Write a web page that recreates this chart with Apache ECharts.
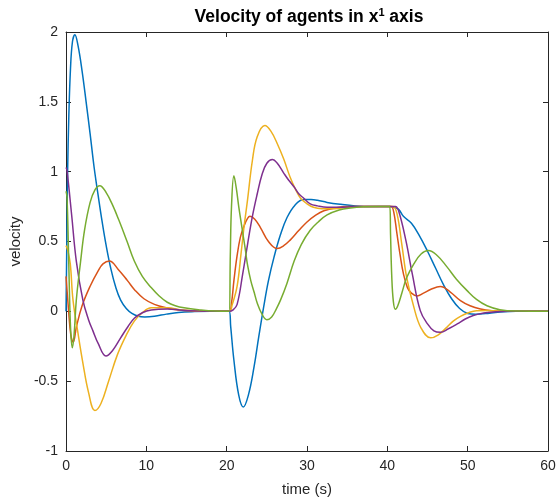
<!DOCTYPE html>
<html>
<head>
<meta charset="utf-8">
<script src="https://cdn.jsdelivr.net/npm/echarts@6/dist/echarts.min.js"></script>
<style>
html,body{margin:0;padding:0;background:#fff;}
#c{width:560px;height:504px;}
</style>
</head>
<body>
<div id="c"></div>
<script>
// ---- data (time in s, velocity) ----
var xTicks = [0, 10, 20, 30, 40, 50, 60];
var yTicks = [-1, -0.5, 0, 0.5, 1, 1.5, 2];

var tBlue = [0,0.1,0.2,0.35,0.55,0.8,1.1,1.5,2,2.5,3,3.5,4,4.5,5,5.6,6.2,6.8,7.5,8.2,9,9.8,11,12.5,14,16,18,20.3,
  20.5,20.9,21.5,22.07,22.7,23.4,24,24.6,25.2,25.9,26.7,27.5,28.5,29.6,30.5,31.3,32.5,34.2,36,38,40.3,
  40.8,41.4,42,43,44,45,46,47,48,49,50,51,52.5,54.5,56,60];
var vBlue = [0,0.5,1.0,1.4,1.73,1.93,1.98,1.9,1.72,1.5,1.27,1.03,0.83,0.64,0.47,0.3,0.17,0.08,0.02,-0.015,-0.035,-0.04,-0.035,-0.02,-0.008,-0.002,0,0,
  -0.11,-0.35,-0.6,-0.685,-0.6,-0.4,-0.18,0.03,0.22,0.39,0.55,0.67,0.76,0.8,0.8,0.795,0.78,0.766,0.755,0.75,0.75,
  0.745,0.73,0.68,0.63,0.54,0.43,0.31,0.19,0.09,0.02,-0.015,-0.02,-0.015,-0.003,0,0];

var tOrange = [0,0.3,0.6,0.9,1.3,2,3,4,4.6,5.4,6.5,7.65,8.6,9.7,11,12.6,14,16,18,20.3,
  20.6,20.9,21.3,21.7,22.15,22.6,22.9,23.5,24.2,25.2,26.3,27.1,27.9,29,30,31,32.1,33.5,35,37,40.3,
  40.5,40.8,41.2,41.6,42,42.5,43,43.7,44.5,45.5,46.6,47.8,49.1,50.3,51.6,53,55,60];
var vOrange = [0.25,0.02,-0.17,-0.22,-0.11,0.04,0.18,0.29,0.34,0.36,0.3,0.22,0.15,0.09,0.05,0.024,0.01,0.003,0,0,
  0.06,0.22,0.4,0.53,0.61,0.665,0.68,0.66,0.6,0.5,0.45,0.47,0.51,0.58,0.64,0.685,0.72,0.74,0.75,0.75,0.75,
  0.75,0.71,0.555,0.4,0.27,0.17,0.13,0.11,0.13,0.16,0.177,0.14,0.077,0.04,0.017,0.005,0,0];

var tYellow = [0,0.2,0.53,0.87,1.5,2.1,2.8,3.6,4.35,5.3,6.4,7.5,8.5,9.5,10.6,12.6,14.5,16.5,18,20.3,
  20.7,21.3,21.8,22.15,22.6,23.2,23.8,24.75,25.5,26.3,27.1,27.9,28.6,29.2,30,30.8,31.8,33.4,35,37,40.3,
  40.7,41.2,41.8,42.4,43.3,44.2,45.4,46.3,47.4,48.2,49.1,50,51.1,52.5,55,60];
var vYellow = [0.47,0.44,0.34,0.08,-0.16,-0.37,-0.58,-0.71,-0.66,-0.5,-0.31,-0.17,-0.07,-0.01,0.025,0.025,0.01,0.002,0,0,
  0.05,0.18,0.42,0.6,0.8,1.08,1.25,1.33,1.29,1.2,1.09,0.96,0.87,0.81,0.77,0.745,0.735,0.735,0.745,0.75,0.75,
  0.75,0.7,0.48,0.245,0.03,-0.12,-0.19,-0.17,-0.115,-0.07,-0.036,-0.012,0.005,0.006,0,0];

var tPurple = [0,0.12,0.7,1.28,2.1,2.8,3.35,4,4.97,5.8,6.8,7.7,8.5,9.5,10.6,12.6,14.5,16.5,18,20.3,
  20.8,21.3,22,22.6,23.2,23.8,24.4,25,25.7,26.3,27.1,27.7,28.4,29,29.6,30.4,31.3,32.5,34,36,40.3,
  41,41.4,42.3,43.1,44.1,45,45.8,46.6,47.6,48.7,49.7,50.7,52,53.2,55,60];
var vPurple = [1.03,1.01,0.69,0.36,0.08,-0.06,-0.14,-0.23,-0.32,-0.28,-0.19,-0.11,-0.05,-0.01,0.01,0.017,0.008,0.002,0,0,
  0.01,0.05,0.27,0.48,0.68,0.84,0.98,1.06,1.087,1.06,0.99,0.94,0.89,0.84,0.81,0.77,0.755,0.745,0.745,0.75,0.75,
  0.75,0.72,0.51,0.27,0.005,-0.09,-0.14,-0.15,-0.125,-0.09,-0.055,-0.03,-0.012,-0.005,0,0];

var tGreen = [0,0.12,0.3,0.45,0.6,0.78,1.0,1.28,1.8,2.3,3,3.6,4.2,5,5.8,6.6,7.6,8.5,9.5,10.6,11.6,12.6,13.6,14.7,16.8,18.5,20.3,
  20.45,20.6,20.9,21.2,21.5,21.9,22.3,22.6,23,23.4,23.8,24.4,25,25.6,26.2,26.7,27.5,28.4,29.3,30.4,31.4,32.5,34,35.4,37,39,40.3,
  40.4,40.55,40.75,41,41.3,41.8,42.4,43.3,44.2,45.1,46.2,47.4,48.6,49.9,51.1,52.4,54,56,60];
var vGreen = [0.86,0.82,0.45,0.08,-0.16,-0.26,-0.17,0.08,0.35,0.58,0.78,0.87,0.9,0.85,0.76,0.65,0.5,0.36,0.25,0.17,0.11,0.065,0.04,0.025,0.01,0.002,0,
  0.4,0.75,0.97,0.88,0.75,0.6,0.45,0.33,0.22,0.14,0.06,-0.02,-0.06,-0.04,0.02,0.08,0.2,0.36,0.48,0.58,0.64,0.69,0.725,0.74,0.748,0.75,0.75,
  0.55,0.25,0.07,0.015,0.04,0.13,0.24,0.34,0.41,0.435,0.4,0.32,0.23,0.15,0.085,0.04,0.012,0.002,0];

var seriesNames = ['agent 1','agent 2','agent 3','agent 4','agent 5'];
var seriesColors = ['#0072BD','#D95319','#EDB120','#7E2F8E','#77AC30'];

function pairs(t, v){ var out=[]; for(var i=0;i<t.length;i++) out.push([t[i], v[i]]); return out; }
var allT = [tBlue,tOrange,tYellow,tPurple,tGreen];
var allV = [vBlue,vOrange,vYellow,vPurple,vGreen];

var FONT = '"Liberation Sans", Arial, Helvetica, sans-serif';
var AX = '#262626';

var chart = echarts.init(document.getElementById('c'), null, {renderer:'canvas'});
var series = [];
for (var k=0;k<5;k++){
  series.push({
    name: seriesNames[k], type:'line', data: pairs(allT[k], allV[k]),
    xAxisIndex:0, yAxisIndex:0,
    showSymbol:false, symbol:'none', smooth:0.4,
    lineStyle:{color:seriesColors[k], width:1.5},
    itemStyle:{color:seriesColors[k]},
    animation:false
  });
}

function axisCommon(){
  return {
    axisLine:{show:true, onZero:false, lineStyle:{color:AX, width:1}},
    axisTick:{show:true, inside:true, length:5, lineStyle:{color:AX, width:1}},
    splitLine:{show:false}
  };
}

var xMain = Object.assign(axisCommon(), {
  type:'value', min:xTicks[0], max:xTicks[xTicks.length-1], interval:10, position:'bottom',
  name:'time (s)', nameLocation:'middle', nameGap:31,
  nameTextStyle:{color:AX, fontSize:15, fontFamily:FONT},
  axisLabel:{color:AX, fontSize:14, fontFamily:FONT, margin:8}
});
var xTop = Object.assign(axisCommon(), {
  type:'value', min:xTicks[0], max:xTicks[xTicks.length-1], interval:10, position:'top',
  axisLabel:{show:false}
});
var yMain = Object.assign(axisCommon(), {
  type:'value', min:yTicks[0], max:yTicks[yTicks.length-1], interval:0.5, position:'left',
  name:'velocity', nameLocation:'middle', nameGap:31, nameRotate:90,
  nameTextStyle:{color:AX, fontSize:15, fontFamily:FONT},
  axisLabel:{color:AX, fontSize:14, fontFamily:FONT, margin:8}
});
var yRight = Object.assign(axisCommon(), {
  type:'value', min:yTicks[0], max:yTicks[yTicks.length-1], interval:0.5, position:'right',
  axisLabel:{show:false}
});

chart.setOption({
  backgroundColor:'#ffffff',
  animation:false,
  grid:{left:65, right:12, top:32, bottom:53, containLabel:false},
  xAxis:[xMain, xTop],
  yAxis:[yMain, yRight],
  graphic:[{
    type:'text', x:309, y:17,
    style:{
      text:'Velocity of agents in x{sup|1} axis',
      align:'center', verticalAlign:'middle',
      fill:'#000', font:'bold 17.5px ' + FONT,
      rich:{ sup:{ fontSize:11, fontWeight:'bold', fontFamily:FONT, fill:'#000', padding:[0,0,9,0] } }
    }
  }],
  series:series
});
</script>
</body>
</html>
